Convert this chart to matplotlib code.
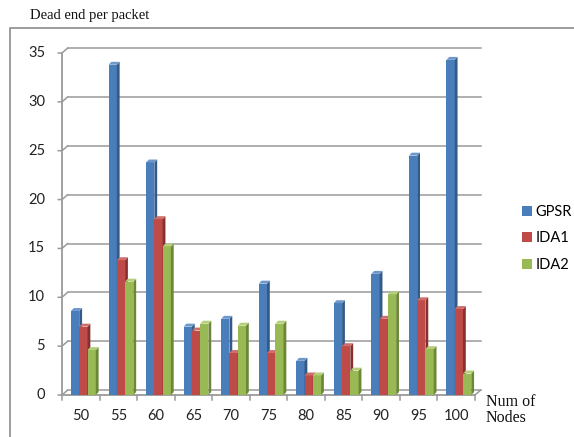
import matplotlib
matplotlib.use("Agg")
import matplotlib.pyplot as plt
from matplotlib.patches import Polygon, Rectangle, Patch

# dead ends per packet for each routing scheme
nodes = [50, 55, 60, 65, 70, 75, 80, 85, 90, 95, 100]
gpsr = [8.6, 33.8, 23.8, 7.0, 7.8, 11.4, 3.5, 9.4, 12.4, 24.5, 34.3]
ida1 = [7.0, 13.8, 18.0, 6.6, 4.3, 4.3, 2.0, 5.0, 7.8, 9.7, 8.8]
ida2 = [4.6, 11.6, 15.2, 7.3, 7.1, 7.3, 2.0, 2.5, 10.3, 4.7, 2.2]
yticks = [0, 5, 10, 15, 20, 25, 30, 35]

series = [("GPSR", gpsr, "#4A7EBB", "#345A88", "#6E98CC"),
          ("IDA1", ida1, "#BE4B48", "#88302E", "#D06E6B"),
          ("IDA2", ida2, "#98B954", "#6C8836", "#B4CF77")]

fig = plt.figure(figsize=(5.74, 4.37), dpi=100)
fig.patch.set_facecolor("white")

# outer chart frame
fig.patches.append(Rectangle((10 / 574, -0.2), 1.2, 0.2 + 1 - 28 / 437,
                             transform=fig.transFigure, fill=False,
                             edgecolor="#8C8C8C", lw=1.2))

ax = fig.add_axes([62 / 574, 42 / 437, 413 / 574, 342 / 437])
ax.set_xlim(0, len(nodes))
ax.set_ylim(0, 35)
ax.axis("off")

# fake 3d depth of the walls (data units)
gdx, gdy = 0.15, 0.5
grid_col = "#9A9A9A"

for v in yticks:
    ax.plot([gdx, len(nodes) + gdx], [v + gdy, v + gdy], color=grid_col, lw=1.1,
            clip_on=False, zorder=1)
    ax.plot([-0.1, 0, gdx], [v, v, v + gdy], color=grid_col, lw=1.1, clip_on=False, zorder=1)
    ax.text(-0.45, v, str(v), ha="right", va="center", fontsize=10.5,
            family="Lato", color="#222222")

# left wall and floor edges
ax.plot([0, 0], [0, 35], color=grid_col, lw=1.3, clip_on=False, zorder=1)
ax.plot([0, len(nodes)], [0, 0], color=grid_col, lw=1.3, clip_on=False, zorder=1)
ax.plot([len(nodes), len(nodes) + gdx], [0, gdy], color=grid_col, lw=1.1, clip_on=False)
for i in range(len(nodes) + 1):
    ax.plot([i, i], [0, -0.55], color=grid_col, lw=1.1, clip_on=False)

for i, n in enumerate(nodes):
    ax.text(i + 0.5, -2.1, str(n), ha="center", va="center", fontsize=10.5,
            family="Lato", color="#222222")

# clustered bars with side and top faces
w = 0.22
bdx, bdy = 0.075, 0.3
z = 3
for i in range(len(nodes)):
    for j, (name, vals, col, side, top) in enumerate(series):
        x0 = i + 0.24 + j * w
        h = vals[i]
        ax.bar(x0, h, width=w, align="edge", color=col, edgecolor="none", zorder=z)
        ax.add_patch(Polygon([(x0 + w, 0), (x0 + w + bdx, bdy), (x0 + w + bdx, h + bdy),
                              (x0 + w, h)], closed=True, facecolor=side,
                             edgecolor="none", zorder=z, clip_on=False))
        ax.add_patch(Polygon([(x0, h), (x0 + bdx, h + bdy), (x0 + w + bdx, h + bdy),
                              (x0 + w, h)], closed=True, facecolor=top,
                             edgecolor="none", zorder=z, clip_on=False))
        z += 1

fig.text(30 / 574, 1 - 16 / 437, "Dead end per packet", ha="left", va="center",
         fontsize=10.5, family="Liberation Serif", color="#111111")
fig.text(486 / 574, 1 - 410 / 437, "Num of\nNodes", ha="left", va="center",
         fontsize=11.5, family="Liberation Serif", color="#111111", linespacing=1.0)

handles = [Patch(facecolor=c, edgecolor="none", label=n) for n, _, c, _, _ in series]
fig.legend(handles=handles, loc="upper left", bbox_to_anchor=(522 / 574, 1 - 205 / 437),
           frameon=False, prop={"family": "Lato", "size": 10.5},
           handlelength=0.7, handleheight=0.7, handletextpad=0.25, labelspacing=0.85,
           borderpad=0, borderaxespad=0)

fig.savefig("out.png", dpi=100)
